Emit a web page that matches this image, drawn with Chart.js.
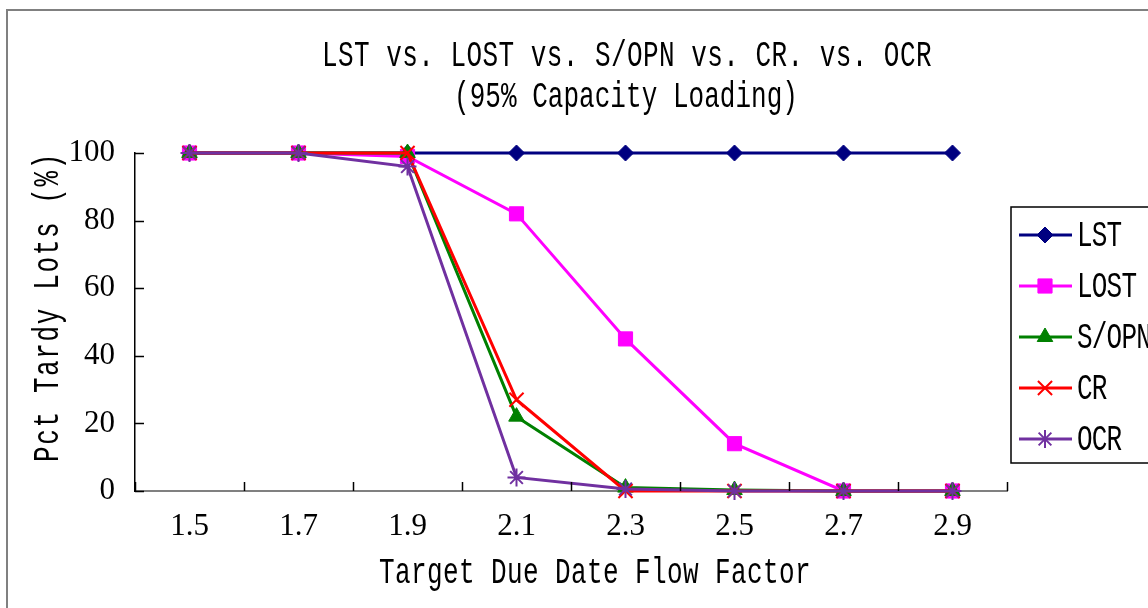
<!DOCTYPE html>
<html>
<head>
<meta charset="utf-8">
<script src="https://cdn.jsdelivr.net/npm/chart.js@4/dist/chart.umd.min.js"></script>
<style>
  body { margin: 0; background: #fff; }
</style>
</head>
<body>
<canvas id="chart" width="1148" height="608"></canvas>
<script>
const factors = ['1.5', '1.7', '1.9', '2.1', '2.3', '2.5', '2.7', '2.9'];
const lst  = [100, 100, 100, 100, 100, 100, 100, 100];
const lost = [100, 100, 99, 82, 45, 14, 0, 0];
const sopn = [100, 100, 100, 22, 1, 0.3, 0, 0];
const cr   = [100, 100, 100, 27, 0, 0, 0, 0];
const ocr  = [100, 100, 96, 4, 0.6, 0, 0, 0];
const yTicks = [0, 20, 40, 60, 80, 100];

const MONO = '"Liberation Mono", "DejaVu Sans Mono", monospace';
const SERIF = '"Liberation Serif", "DejaVu Serif", serif';

function series(label, data, color, style, radius, order) {
  return {
    label: label,
    data: data,
    borderColor: color,
    backgroundColor: color,
    borderWidth: 3,
    pointStyle: style,
    pointRadius: radius,
    pointHoverRadius: radius,
    pointBorderWidth: style === 'crossRot' || style === 'star' ? 2 : 1,
    tension: 0,
    clip: false,
    order: order
  };
}

// tall, narrow mono text stretched to a given width; (x, base) is the left end of the baseline
function stretchText(ctx, text, x, base, width, rot) {
  ctx.save();
  ctx.translate(x, base);
  if (rot) ctx.rotate(rot);
  ctx.scale(1, 1.42);
  ctx.font = '26px ' + MONO;
  ctx.textAlign = 'left';
  ctx.textBaseline = 'alphabetic';
  const w = ctx.measureText(text).width;
  ctx.letterSpacing = ((width - w) / text.length) + 'px';
  ctx.fillStyle = '#000';
  ctx.fillText(text, 0, 0);
  ctx.restore();
}

// frame, titles, inward tick marks and the boxed legend
const decor = {
  id: 'decor',
  beforeDraw(chart) {
    const ctx = chart.ctx;
    ctx.save();
    ctx.strokeStyle = '#808080';
    ctx.lineWidth = 2;
    ctx.beginPath();
    ctx.moveTo(7, 608);
    ctx.lineTo(7, 10);
    ctx.lineTo(1148, 10);
    ctx.stroke();
    ctx.restore();
  },
  afterDraw(chart) {
    const ctx = chart.ctx;
    const x = chart.scales.x, y = chart.scales.y;
    ctx.save();
    stretchText(ctx, 'LST vs. LOST vs. S/OPN vs. CR. vs. OCR', 322, 66, 610);
    stretchText(ctx, '(95% Capacity Loading)', 454, 107, 344);
    stretchText(ctx, 'Target Due Date Flow Factor', 379, 583, 432);
    stretchText(ctx, 'Pct Tardy Lots (%)', 58, 462, 310, -Math.PI / 2);

    // tick marks pointing into the plot
    ctx.lineWidth = 1.5;
    ctx.strokeStyle = '#000';
    ctx.beginPath();
    yTicks.forEach(v => {
      const py = Math.round(y.getPixelForValue(v)) + 0.5;
      ctx.moveTo(y.right, py);
      ctx.lineTo(y.right + 9, py);
    });
    const step = x.getPixelForTick(1) - x.getPixelForTick(0);
    for (let i = 0; i <= factors.length; i++) {
      const px = Math.round(x.getPixelForTick(0) - step / 2 + i * step) + 0.5;
      ctx.moveTo(px, x.top);
      ctx.lineTo(px, x.top - 9);
    }
    ctx.stroke();

    // legend
    ctx.lineWidth = 1.5;
    ctx.strokeStyle = '#000';
    ctx.strokeRect(1011, 207, 160, 256);
    chart.data.datasets.forEach((ds, i) => {
      const ly = 235 + i * 51;
      ctx.strokeStyle = ds.borderColor;
      ctx.lineWidth = 3;
      ctx.beginPath();
      ctx.moveTo(1019, ly);
      ctx.lineTo(1072, ly);
      ctx.stroke();
      ctx.fillStyle = ds.backgroundColor;
      ctx.lineWidth = ds.pointBorderWidth;
      Chart.helpers.drawPoint(ctx, {
        pointStyle: ds.pointStyle,
        radius: ds.pointRadius,
        rotation: 0,
        borderWidth: ds.pointBorderWidth
      }, 1045, ly);
      stretchText(ctx, ds.label, 1077, ly + 11, ds.label.length * 14.8);
    });
    ctx.restore();
  }
};

new Chart(document.getElementById('chart'), {
  type: 'line',
  data: {
    labels: factors,
    datasets: [
      series('LST', lst, '#000080', 'rectRot', 8, 5),
      series('LOST', lost, '#FF00FF', 'rect', 10, 4),
      series('S/OPN', sopn, '#008000', 'triangle', 9, 3),
      series('CR', cr, '#FF0000', 'crossRot', 10, 2),
      series('OCR', ocr, '#7030A0', 'star', 9, 1)
    ]
  },
  options: {
    responsive: false,
    animation: false,
    layout: { padding: { top: 153, right: 141, left: 0, bottom: 0 } },
    plugins: {
      legend: { display: false },
      title: { display: false },
      tooltip: { enabled: false }
    },
    scales: {
      x: {
        type: 'category',
        offset: true,
        grid: { display: false, drawTicks: false },
        border: { display: true, color: '#808080', width: 2 },
        ticks: { color: '#000', font: { family: SERIF, size: 31 }, padding: 17, maxRotation: 0 },
        afterFit: s => { s.height = 117; }
      },
      y: {
        min: 0,
        max: 100,
        grid: { display: false, drawTicks: false },
        border: { display: true, color: '#000', width: 1.5 },
        ticks: { stepSize: 20, color: '#000', font: { family: SERIF, size: 31 }, padding: 20 },
        afterFit: s => { s.width = 135; }
      }
    }
  },
  plugins: [decor]
});
</script>
</body>
</html>
